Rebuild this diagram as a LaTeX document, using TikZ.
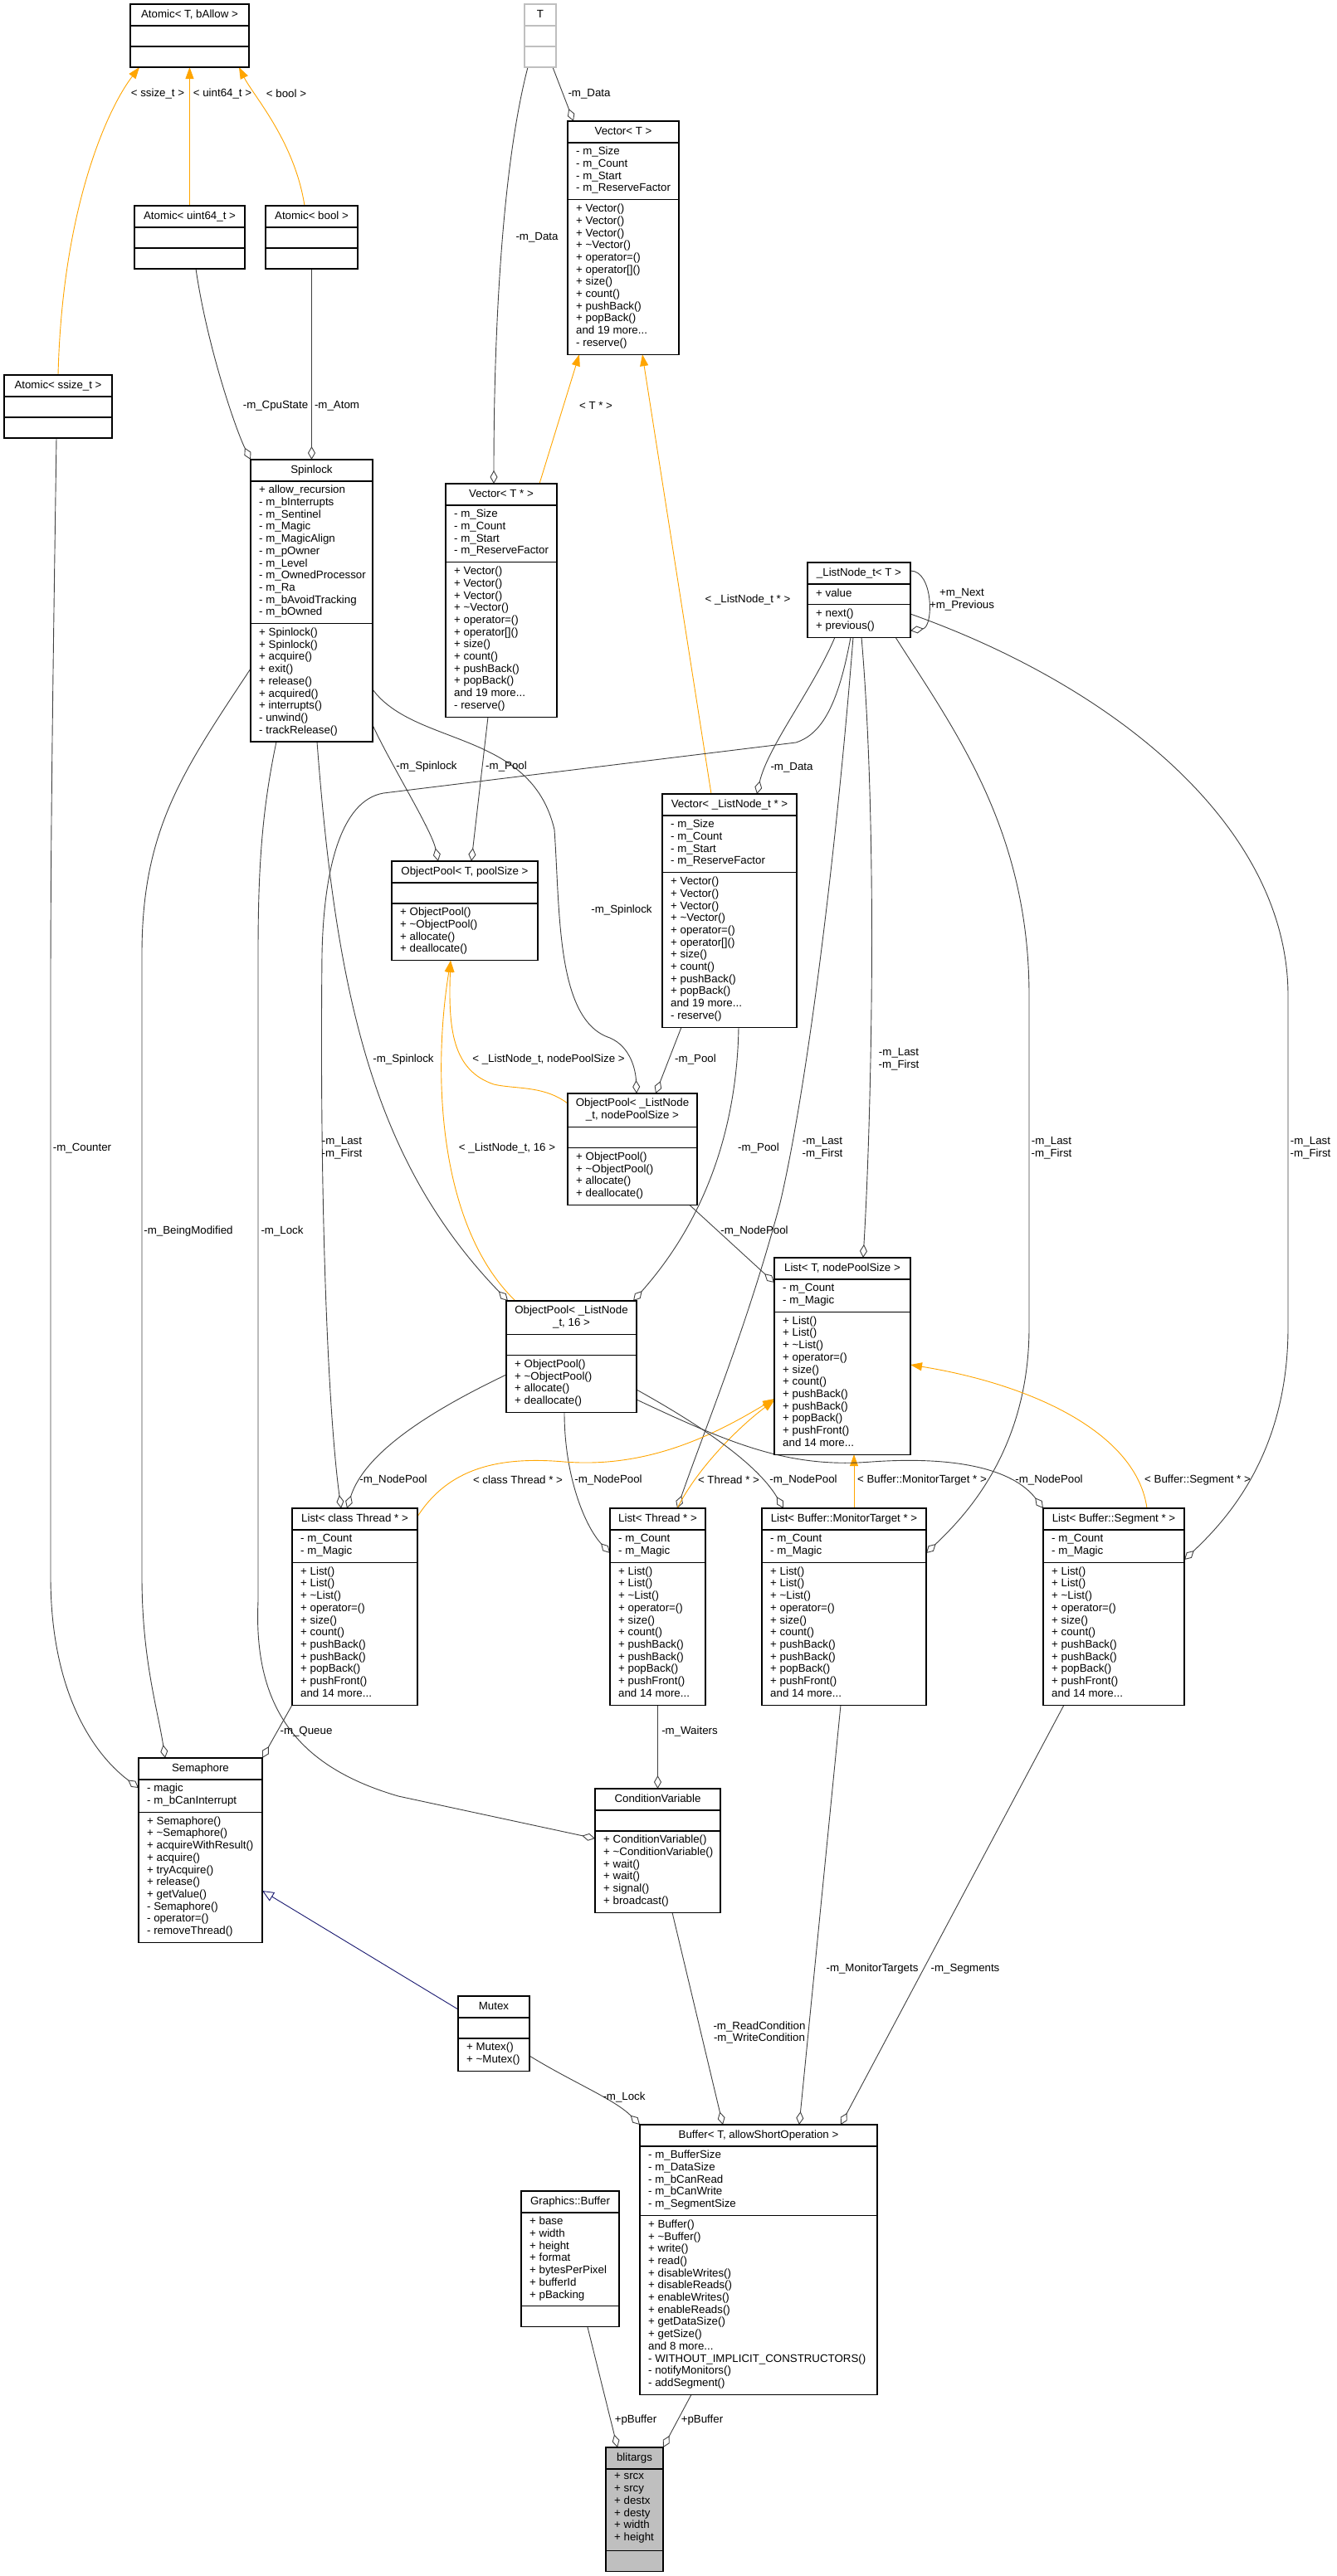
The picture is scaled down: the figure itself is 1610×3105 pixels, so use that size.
\documentclass[tikz,border=0pt]{standalone}
\usepackage{fontspec}
\setmainfont{Liberation Sans}
\usepackage{xcolor}
\usetikzlibrary{arrows.meta, calc, backgrounds}

\definecolor{grey25}{HTML}{404040}
\definecolor{grey75}{HTML}{BFBFBF}
\definecolor{dxorange}{HTML}{FFA500}
\definecolor{midnightblue}{HTML}{191970}

\newcommand{\classfont}{\fontsize{13.3pt}{14.7pt}\selectfont}
\def\umlcounts#1/#2/#3\relax{\def\clsnT{#1}\def\clsnA{#2}\def\clsnM{#3}}
% [style]{name}{x,y}{width}{title/attr/method lines}{title}{attributes}{methods}
\newcommand{\umlclass}[8][]{%
  \umlcounts#5\relax
  \pgfmathsetmacro\clshT{\clsnT*14.7+11.3}%
  \pgfmathsetmacro\clshA{ifthenelse(\clsnA==0,25,\clsnA*14.7+10)}%
  \pgfmathsetmacro\clshM{ifthenelse(\clsnM==0,25,\clsnM*14.7+10)}%
  \pgfmathsetmacro\clsyA{\clshT+\clshA}%
  \pgfmathsetmacro\clsH{\clsyA+\clshM}%
  \node[classbox,#1,minimum width=#4,minimum height=\clsH,anchor=north west] (#2) at (#3) {};
  \draw[classline,#1] ([yshift=-\clshT pt]#2.north west) -- ([yshift=-\clshT pt]#2.north east)
    ([yshift=-\clsyA pt]#2.north west) -- ([yshift=-\clsyA pt]#2.north east);
  \node[clstext,align=center,anchor=north] (#2-t) at ([yshift=-5.6pt]#2.north) {#6};
  \ifnum\clsnA>0 \node[clstext,align=left,anchor=north west] (#2-a) at ([shift={(10pt,-\clshT pt-5pt)}]#2.north west) {#7};\fi
  \ifnum\clsnM>0 \node[clstext,align=left,anchor=north west] (#2-m) at ([shift={(10pt,-\clsyA pt-5pt)}]#2.north west) {#8};\fi
}

\newcommand{\vecattrs}{- m\_Size\\- m\_Count\\- m\_Start\\- m\_ReserveFactor}
\newcommand{\vecmeths}{+ Vector()\\+ Vector()\\+ Vector()\\+ \textasciitilde Vector()\\+ operator=()\\+ operator[]()\\+ size()\\+ count()\\+ pushBack()\\+ popBack()\\and 19 more...\\- reserve()}
\newcommand{\poolmeths}{+ ObjectPool()\\+ \textasciitilde ObjectPool()\\+ allocate()\\+ deallocate()}
\newcommand{\listattrs}{- m\_Count\\- m\_Magic}
\newcommand{\listmeths}{+ List()\\+ List()\\+ \textasciitilde List()\\+ operator=()\\+ size()\\+ count()\\+ pushBack()\\+ pushBack()\\+ popBack()\\+ pushFront()\\and 14 more...}

\begin{document}
\begin{tikzpicture}[x=1pt, y=-1pt,
  classbox/.style={draw=black, fill=white, line width=1.1pt, inner sep=0pt, outer sep=0pt},
  classline/.style={draw=black, line width=1.1pt},
  clstext/.style={font=\classfont, inner sep=0pt, execute at begin node=\strut, execute at end node=\strut},
  lbl/.style={font=\classfont, inner sep=0pt, align=center},
  member/.style={draw=grey25, line width=0.9pt, -{Diamond[open, length=16pt, width=9pt]}},
  tmpl/.style={draw=dxorange, line width=0.9pt, -{Triangle[length=14pt, width=10pt, fill=dxorange]}},
  inherit/.style={draw=midnightblue, line width=0.9pt, -{Triangle[open, length=14pt, width=12pt]}},
]
\useasboundingbox (0,0) rectangle (1610,3105);

\umlclass{atomT}{157,5}{143}{1/0/0}{Atomic< T, bAllow >}{}{}
\umlclass[draw=grey75]{tT}{632,5}{38}{1/0/0}{T}{}{}
\umlclass{vecT}{684,146}{134}{1/4/12}{Vector< T >}{\vecattrs}{\vecmeths}
\umlclass{atomU}{162,248}{133}{1/0/0}{Atomic< uint64\_t >}{}{}
\umlclass{atomB}{320,248}{111}{1/0/0}{Atomic< bool >}{}{}
\umlclass{atomS}{5,452}{130}{1/0/0}{Atomic< ssize\_t >}{}{}
\umlclass{spin}{302,554}{147}{1/11/9}{Spinlock}
  {+ allow\_recursion\\- m\_bInterrupts\\- m\_Sentinel\\- m\_Magic\\- m\_MagicAlign\\- m\_pOwner\\- m\_Level\\- m\_OwnedProcessor\\- m\_Ra\\- m\_bAvoidTracking\\- m\_bOwned}
  {+ Spinlock()\\+ Spinlock()\\+ acquire()\\+ exit()\\+ release()\\+ acquired()\\+ interrupts()\\- unwind()\\- trackRelease()}
\umlclass{vecTp}{537,583}{134}{1/4/12}{Vector< T * >}{\vecattrs}{\vecmeths}
\umlclass{lnode}{973,678}{124}{1/1/2}{\_ListNode\_t< T >}{+ value}{+ next()\\+ previous()}
\umlclass{vecLN}{798,957}{162}{1/4/12}{Vector< \_ListNode\_t * >}{\vecattrs}{\vecmeths}
\umlclass{opT}{472,1038}{176}{1/0/4}{ObjectPool< T, poolSize >}{}{\poolmeths}
\umlclass{opN}{684,1318}{156}{2/0/4}{ObjectPool< \_ListNode\\\_t, nodePoolSize >}{}{\poolmeths}
\umlclass{op16}{610,1568}{157}{2/0/4}{ObjectPool< \_ListNode\\\_t, 16 >}{}{\poolmeths}
\umlclass{listTN}{933,1516}{164}{1/2/11}{List< T, nodePoolSize >}{\listattrs}{\listmeths}
\umlclass{listCT}{352,1818}{151}{1/2/11}{List< class Thread * >}{\listattrs}{\listmeths}
\umlclass{listThr}{735,1818}{115}{1/2/11}{List< Thread * >}{\listattrs}{\listmeths}
\umlclass{listMT}{918,1818}{198}{1/2/11}{List< Buffer::MonitorTarget * >}{\listattrs}{\listmeths}
\umlclass{listSeg}{1257,1818}{170}{1/2/11}{List< Buffer::Segment * >}{\listattrs}{\listmeths}
\umlclass{sem}{167,2119}{149}{1/2/10}{Semaphore}{- magic\\- m\_bCanInterrupt}
  {+ Semaphore()\\+ \textasciitilde Semaphore()\\+ acquireWithResult()\\+ acquire()\\+ tryAcquire()\\+ release()\\+ getValue()\\- Semaphore()\\- operator=()\\- removeThread()}
\umlclass{cv}{717,2156}{151}{1/0/6}{ConditionVariable}{}
  {+ ConditionVariable()\\+ \textasciitilde ConditionVariable()\\+ wait()\\+ wait()\\+ signal()\\+ broadcast()}
\umlclass{mutex}{552,2406}{86}{1/0/2}{Mutex}{}{+ Mutex()\\+ \textasciitilde Mutex()}
\umlclass{buf}{771,2561}{286}{1/5/14}{Buffer< T, allowShortOperation >}
  {- m\_BufferSize\\- m\_DataSize\\- m\_bCanRead\\- m\_bCanWrite\\- m\_SegmentSize}
  {+ Buffer()\\+ \textasciitilde Buffer()\\+ write()\\+ read()\\+ disableWrites()\\+ disableReads()\\+ enableWrites()\\+ enableReads()\\+ getDataSize()\\+ getSize()\\and 8 more...\\- WITHOUT\_IMPLICIT\_CONSTRUCTORS()\\- notifyMonitors()\\- addSegment()}
\umlclass{gbuf}{628,2641}{118}{1/7/0}{Graphics::Buffer}{+ base\\+ width\\+ height\\+ format\\+ bytesPerPixel\\+ bufferId\\+ pBacking}{}
\umlclass[fill=grey75]{blit}{730,2950}{69}{1/6/0}{blitargs}{+ srcx\\+ srcy\\+ destx\\+ desty\\+ width\\+ height}{}

\node[lbl] (lbSsize) at (190,113) {< ssize\_t >};
\node[lbl] (lbUint) at (268,113) {< uint64\_t >};
\node[lbl] (lbBool) at (345,113) {< bool >};
\node[lbl] (lbDataT) at (710,113) {-m\_Data};
\node[lbl] (lbDataTp) at (647,286) {-m\_Data};
\node[lbl] (lbCpu) at (332,489) {-m\_CpuState};
\node[lbl] (lbAtom) at (406,489) {-m\_Atom};
\node[lbl] (lbTp) at (718,489) {< T * >};
\node[lbl] (lbLNp) at (901,723) {< \_ListNode\_t * >};
\node[lbl] (lbNext) at (1159,723) {+m\_Next\\+m\_Previous};
\node[lbl] (lbSpinT) at (514,924) {-m\_Spinlock};
\node[lbl] (lbPoolT) at (610,924) {-m\_Pool};
\node[lbl] (lbDataLN) at (954,925) {-m\_Data};
\node[lbl] (lbSpinN) at (749,1097) {-m\_Spinlock};
\node[lbl] (lbSpin16) at (486,1277) {-m\_Spinlock};
\node[lbl] (lbNPS) at (661,1277) {< \_ListNode\_t, nodePoolSize >};
\node[lbl] (lbPoolN) at (838,1277) {-m\_Pool};
\node[lbl] (lbLastTN) at (1083,1277) {-m\_Last\\-m\_First};
\node[lbl] (lbCounter) at (99,1384) {-m\_Counter};
\node[lbl] (lbLastCT) at (412,1384) {-m\_Last\\-m\_First};
\node[lbl] (lb16) at (611,1384) {< \_ListNode\_t, 16 >};
\node[lbl] (lbPool16) at (914,1384) {-m\_Pool};
\node[lbl] (lbLastThr) at (991,1384) {-m\_Last\\-m\_First};
\node[lbl] (lbLastMT) at (1267,1384) {-m\_Last\\-m\_First};
\node[lbl] (lbLastSeg) at (1579,1384) {-m\_Last\\-m\_First};
\node[lbl] (lbBeing) at (227,1484) {-m\_BeingModified};
\node[lbl] (lbLockCV) at (340,1484) {-m\_Lock};
\node[lbl] (lbNodeTN) at (909,1484) {-m\_NodePool};
\node[lbl] (lbNodeCT) at (474,1784) {-m\_NodePool};
\node[lbl] (lbClsThr) at (624,1784) {< class Thread * >};
\node[lbl] (lbNodeThr) at (733,1784) {-m\_NodePool};
\node[lbl] (lbThr) at (878,1784) {< Thread * >};
\node[lbl] (lbNodeMT) at (968,1784) {-m\_NodePool};
\node[lbl] (lbMT) at (1111,1784) {< Buffer::MonitorTarget * >};
\node[lbl] (lbNodeSeg) at (1264,1784) {-m\_NodePool};
\node[lbl] (lbSeg) at (1443,1784) {< Buffer::Segment * >};
\node[lbl] (lbQueue) at (369,2087) {-m\_Queue};
\node[lbl] (lbWaiters) at (831,2087) {-m\_Waiters};
\node[lbl] (lbMonT) at (1051,2373) {-m\_MonitorTargets};
\node[lbl] (lbSegs) at (1163,2373) {-m\_Segments};
\node[lbl] (lbCond) at (915,2450) {-m\_ReadCondition\\-m\_WriteCondition};
\node[lbl] (lbLockBuf) at (752,2528) {-m\_Lock};
\node[lbl] (lbBufG) at (766,2917) {+pBuffer};
\node[lbl] (lbBufB) at (846,2917) {+pBuffer};

\begin{scope}[on background layer]
\draw[tmpl] (atomS.north) .. controls (75,250) and (130,130) .. ($(atomT.south west)+(11,0)$);
\draw[tmpl] (atomU.north) -- (atomT.south);
\draw[tmpl] ($(atomB.north west)+(47,0)$) .. controls (355,170) and (305,115) .. ($(atomT.south east)+(-12,0)$);
\draw[member] ($(atomU.south west)+(74,0)$) .. controls (250,420) and (285,520) .. (spin.north west);
\draw[member] (atomB.south) -- (spin.north);
\draw[member] ($(tT.south east)+(-4,0)$) -- ($(vecT.north west)+(7,0)$);
\draw[member] ($(tT.south west)+(4,0)$) .. controls (605,200) and (595,400) .. ($(vecTp.north west)+(58,0)$);
\draw[tmpl] ($(vecTp.north east)+(-21,0)$) -- ($(vecT.south west)+(14,0)$);
\draw[tmpl] ($(vecLN.north west)+(59,0)$) -- ($(vecT.south west)+(90,0)$);
\draw[member] ($(spin.south east)+(0,-20)$) .. controls (470,920) and (520,1000) .. ($(opT.north west)+(56,0)$);
\draw[member] ($(vecTp.south west)+(51,0)$) -- ($(opT.north west)+(96,0)$);
\draw[member] ($(lnode.south west)+(33,0)$) .. controls (980,830) and (925,900) .. ($(vecLN.north west)+(114,0)$);
\draw[member] ($(lnode.north east)+(0,10)$) .. controls (1125,688) and (1125,756) .. ($(lnode.south east)+(0,-8)$);
\draw[member] ($(spin.south east)+(0,-63)$) .. controls (500,900) and (640,880) .. (668,1000)
  .. controls (675,1100) and (670,1230) .. (735,1251) .. controls (760,1262) and (766,1290) .. ($(opN.north west)+(83,0)$);
\draw[member] ($(vecLN.south west)+(23,0)$) -- ($(opN.north west)+(106,0)$);
\draw[tmpl] ($(opN.north west)+(0,12)$) .. controls (655,1308) and (620,1313) .. (595,1307)
  .. controls (545,1290) and (540,1240) .. ($(opT.south west)+(71,0)$);
\draw[tmpl] ($(op16.north west)+(11,0)$) .. controls (530,1480) and (520,1300) .. ($(opT.south west)+(71,0)$);
\draw[member] ($(spin.south west)+(80,0)$) .. controls (405,1200) and (450,1400) .. ($(op16.north west)+(2,0)$);
\draw[member] ($(vecLN.south west)+(92,0)$) .. controls (888,1360) and (850,1470) .. ($(op16.north east)+(-4,0)$);
\draw[member] ($(lnode.south west)+(52,0)$) .. controls (1010,850) and (990,885) .. (959,895) -- (462,956)
  .. controls (410,965) and (390,1050) .. (388,1150) .. controls (385,1450) and (395,1700) .. ($(listCT.north west)+(59,0)$);
\draw[member] ($(lnode.south west)+(55,0)$) .. controls (1010,1000) and (975,1300) .. (940,1450)
  .. controls (900,1600) and (850,1720) .. ($(listThr.north west)+(81,0)$);
\draw[member] ($(lnode.south west)+(65,0)$) .. controls (1058,1000) and (1050,1350) .. ($(listTN.north west)+(107,0)$);
\draw[member] ($(lnode.south east)+(-18,0)$) .. controls (1150,880) and (1240,1000) .. (1240,1200) -- (1240,1600)
  .. controls (1240,1750) and (1160,1830) .. ($(listMT.north east)+(0,54)$);
\draw[member] ($(lnode.north east)+(0,62)$) .. controls (1350,830) and (1552,1000) .. (1552,1200) -- (1552,1600)
  .. controls (1552,1750) and (1480,1830) .. ($(listSeg.north east)+(0,62)$);
\draw[member] ($(spin.north west)+(0,252)$) .. controls (220,930) and (171,1000) .. (171,1150) -- (171,1900)
  .. controls (171,2000) and (190,2060) .. ($(sem.north west)+(32,0)$);
\draw[member] ($(atomS.south west)+(63,0)$) .. controls (64,800) and (61,1000) .. (61,1200) -- (61,1900)
  .. controls (61,2050) and (120,2120) .. ($(sem.north west)+(0,36)$);
\draw[member] ($(spin.south west)+(31,0)$) .. controls (315,980) and (311,1050) .. (311,1150) -- (311,1930)
  .. controls (305,2060) and (360,2130) .. (480,2165) -- ($(cv.north west)+(0,60)$);
\draw[member] (listCT.south west) -- (sem.north east);
\draw[member] ($(op16.north west)+(0,89)$) .. controls (520,1700) and (440,1750) .. ($(listCT.north west)+(66,0)$);
\draw[member] ($(op16.south west)+(70,0)$) .. controls (680,1780) and (705,1840) .. ($(listThr.north west)+(0,54)$);
\draw[tmpl] ($(listCT.north east)+(0,10)$) .. controls (540,1770) and (600,1755) .. (680,1762)
  .. controls (780,1770) and (860,1730) .. ($(listTN.north west)+(0,170)$);
\draw[tmpl] ($(listThr.north west)+(81,0)$) .. controls (840,1770) and (890,1720) .. ($(listTN.north west)+(0,172)$);
\draw[tmpl] ($(listMT.north west)+(111,0)$) -- ($(listTN.south west)+(96,0)$);
\draw[tmpl] ($(listSeg.north west)+(125,0)$) .. controls (1370,1730) and (1250,1670) .. ($(listTN.north east)+(0,129)$);
\draw[member] ($(op16.north east)+(0,107)$) .. controls (830,1710) and (910,1760) .. ($(listMT.north west)+(26,0)$);
\draw[member] ($(op16.north east)+(0,119)$) .. controls (880,1740) and (950,1770) .. (1050,1762)
  .. controls (1150,1755) and (1220,1770) .. (listSeg.north west);
\draw[member] ($(opN.south east)+(-9,0)$) -- ($(listTN.north west)+(0,30)$);
\draw[member] (listThr.south) -- (cv.north);
\draw[member] ($(listMT.south west)+(95,0)$) -- ($(buf.north west)+(192,0)$);
\draw[member] ($(listSeg.south west)+(25,0)$) -- ($(buf.north west)+(242,0)$);
\draw[member] ($(cv.south west)+(93,0)$) -- ($(buf.north west)+(100,0)$);
\draw[member] ($(mutex.north east)+(0,72)$) .. controls (690,2510) and (740,2530) .. (buf.north west);
\draw[inherit] ($(mutex.north west)+(0,16)$) -- ($(sem.north east)+(0,160)$);
\draw[member] ($(gbuf.south west)+(80,0)$) -- ($(blit.north west)+(14,0)$);
\draw[member] ($(buf.south west)+(62,0)$) -- (blit.north east);
\end{scope}
\end{tikzpicture}
\end{document}
